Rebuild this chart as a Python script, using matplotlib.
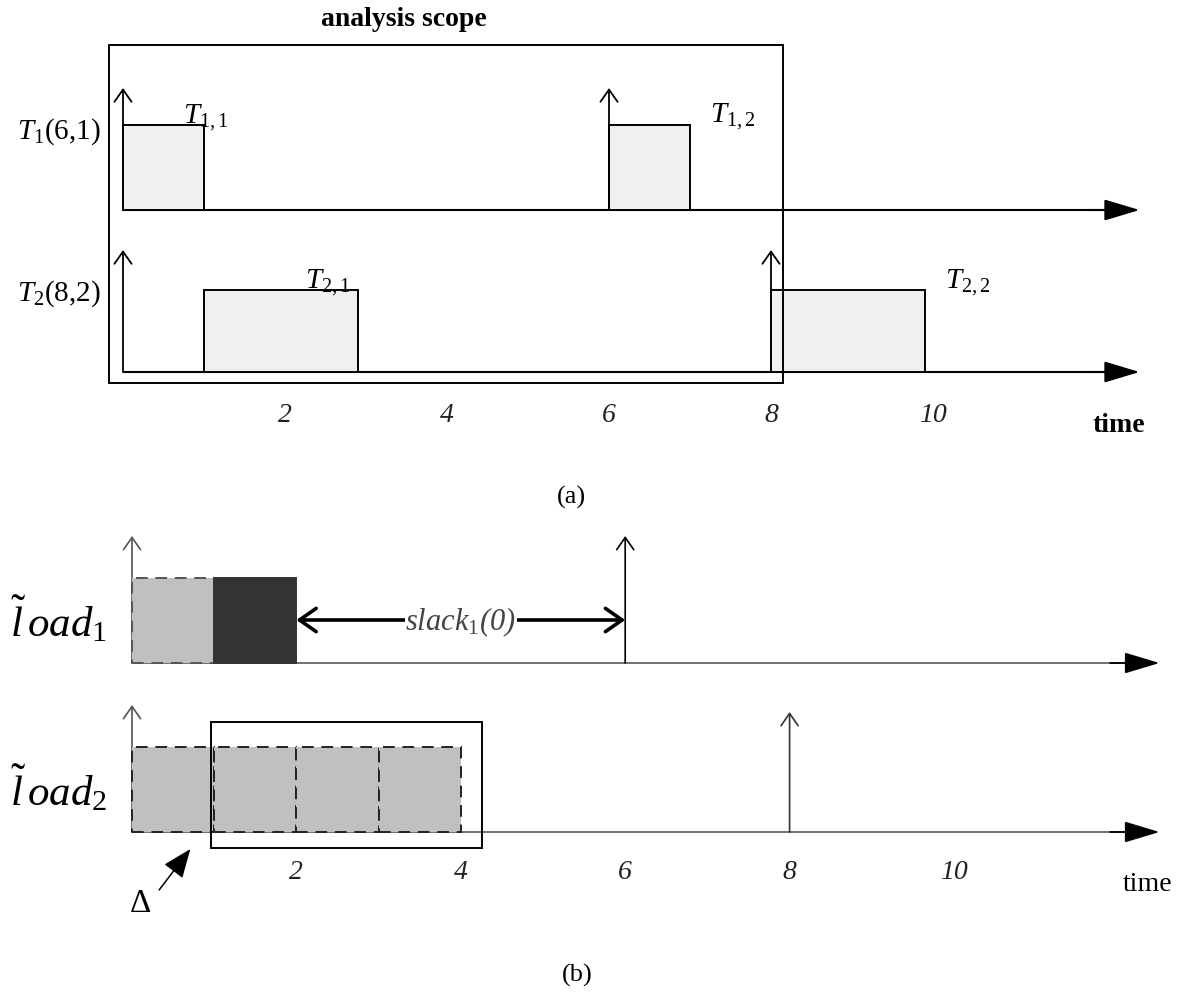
import matplotlib
matplotlib.use("Agg")
import matplotlib.pyplot as plt

plt.rcParams["font.family"] = ["Liberation Serif", "DejaVu Serif"]
plt.rcParams["mathtext.fontset"] = "custom"
plt.rcParams["mathtext.rm"] = "Liberation Serif"
plt.rcParams["mathtext.it"] = "Liberation Serif:italic"
plt.rcParams["mathtext.bf"] = "Liberation Serif:bold"

# ---- data: panel (a), two periodic tasks T(period, wcet)
task_labels = [r"$T_{\mathit{1}}$(6,1)", r"$T_{\mathit{2}}$(8,2)"]
job_labels = [[r"$T_{\mathit{1,1}}$", r"$T_{\mathit{1,2}}$"],
              [r"$T_{\mathit{2,1}}$", r"$T_{\mathit{2,2}}$"]]
job_start = [[0, 6], [1, 8]]
job_end = [[1, 7], [2.9, 9.9]]
release_a = [[0, 6], [0, 8]]
scope = [0, 8]
time_ticks = [2, 4, 6, 8, 10]

# ---- data: panel (b), estimated loads
load_labels = [r"$\tilde{l}\,oad_{1}$", r"$\tilde{l}\,oad_{2}$"]
load1_start = [0, 1]
load1_end = [1, 2]
load2_start = [0, 1, 2, 3]
load2_end = [1, 2, 3, 4]
release_b = [[0, 6], [0, 8]]
slack1 = [2, 6]
delta_window = [0.96, 4.26]

W, H = 1194, 992
fig = plt.figure(figsize=(W / 100, H / 100), dpi=100)

# panel axes: x in time units, y in pixel rows (layout only)
X0A, SA = 123, 81.0
X0B, SB = 132, 82.2
ax_a = fig.add_axes([0, 1 - 470 / H, 1, 470 / H])
ax_a.set_xlim(-X0A / SA, (W - X0A) / SA)
ax_a.set_ylim(470, 0)
ax_b = fig.add_axes([0, 0, 1, 522 / H])
ax_b.set_xlim(-X0B / SB, (W - X0B) / SB)
ax_b.set_ylim(H, 470)
for ax in (ax_a, ax_b):
    ax.axis("off")


def up_arrow(ax, x, y0, y1, color="black", lw=1.3):
    ax.annotate("", xy=(x, y1), xytext=(x, y0),
                arrowprops=dict(arrowstyle="->,head_length=0.4,head_width=0.28",
                                mutation_scale=22, color=color, lw=lw,
                                shrinkA=0, shrinkB=0))


def time_axis(ax, y, x_end, color="black", lw=1.5):
    ax.plot([0, x_end], [y, y], color=color, lw=lw, solid_capstyle="butt", zorder=2)
    ax.annotate("", xy=(x_end + 0.05, y), xytext=(x_end - 0.6, y),
                arrowprops=dict(arrowstyle="-|>,head_length=1.1,head_width=0.33",
                                mutation_scale=20, color="black", lw=lw,
                                shrinkA=0, shrinkB=0), zorder=3)


# ================= panel (a) =================
base_a = [210, 372]
box_h_a = [85, 82]
arrow_tip_a = [88, 250]
for i in range(2):
    time_axis(ax_a, base_a[i], 12.5)
    starts = job_start[i]
    widths = [e - s for s, e in zip(starts, job_end[i])]
    ax_a.bar(starts, -box_h_a[i], width=widths, bottom=base_a[i], align="edge",
             color="#f0f0f0", edgecolor="black", lw=1.4, zorder=2)
    for r in release_a[i]:
        up_arrow(ax_a, r, base_a[i], arrow_tip_a[i])
    ax_a.text(-0.28, base_a[i] - 78, task_labels[i], ha="right", va="center",
              fontsize=21)

# job labels
lab_pos = [[(0.74, 123), (7.25, 122)], [(2.25, 288), (10.15, 288)]]
for i in range(2):
    for j in range(2):
        x, y = lab_pos[i][j]
        ax_a.text(x, y, job_labels[i][j], ha="left", va="baseline", fontsize=21)

# analysis scope box
pad = 0.17
ax_a.add_patch(plt.Rectangle((scope[0] - pad, 45), scope[1] - scope[0] + 2 * pad - 0.02,
                             383 - 45, fill=False, edgecolor="black", lw=1.4, zorder=4))
ax_a.text(3.47, 20, "analysis scope", ha="center", va="center", fontsize=20,
          fontweight="bold")

for t in time_ticks:
    ax_a.text(t, 415, str(t), ha="center", va="center", fontsize=20,
              fontstyle="italic", color="#222222")
ax_a.text(12.3, 425, "time", ha="center", va="center", fontsize=20, fontweight="bold")

fig.text(571 / W, 1 - 497 / H, "(a)", ha="center", va="center", fontsize=19)

# ================= panel (b) =================
base_b = [663, 832]
box_h_b = 85
arrow_tip_b = [[536, 536], [705, 712]]
arrow_col_b = [["#555555", "black"], ["#555555", "#333333"]]
for i in range(2):
    ax_b.plot([0, 12.45], [base_b[i]] * 2, color="#666666", lw=1.3, zorder=2)
    ax_b.annotate("", xy=(12.5, base_b[i]), xytext=(11.9, base_b[i]),
                  arrowprops=dict(arrowstyle="-|>,head_length=1.1,head_width=0.33",
                                  mutation_scale=20, color="black", lw=1.3,
                                  shrinkA=0, shrinkB=0), zorder=3)
    for k, r in enumerate(release_b[i]):
        up_arrow(ax_b, r, base_b[i], arrow_tip_b[i][k], color=arrow_col_b[i][k], lw=1.2)
    ax_b.text(-1.48, base_b[i] - 43, load_labels[i], ha="left", va="center",
              fontsize=31)

# load1: estimated part (light, dashed) + executed part (dark)
ax_b.bar(load1_start[:1], -box_h_b, width=[load1_end[0] - load1_start[0]],
         bottom=base_b[0], align="edge", color="#c0c0c0", edgecolor="#555555",
         lw=1.4, linestyle=(0, (6, 4)), zorder=3)
ax_b.bar(load1_start[1:], -box_h_b, width=[load1_end[1] - load1_start[1]],
         bottom=base_b[0], align="edge", color="#333333", edgecolor="#333333",
         lw=1.4, zorder=3)

# load2: unit blocks
w2 = [e - s for s, e in zip(load2_start, load2_end)]
ax_b.bar(load2_start, -box_h_b, width=w2, bottom=base_b[1], align="edge",
         color="#c0c0c0", edgecolor="#222222", lw=1.4, linestyle=(0, (6, 4)), zorder=3)

# slack arrow
ax_b.annotate("", xy=(slack1[1], 620), xytext=(slack1[0], 620),
              arrowprops=dict(arrowstyle="<->,head_length=0.5,head_width=0.35",
                              mutation_scale=24, color="black", lw=2.6,
                              shrinkA=0, shrinkB=0), zorder=4)
ax_b.text((slack1[0] + slack1[1]) / 2, 622, r"slack$_{\mathit{1}}$(0)", ha="center",
          va="center", fontsize=22, fontstyle="italic", color="#444444", zorder=5,
          bbox=dict(facecolor="white", edgecolor="none", pad=0.5))

# delta window
ax_b.add_patch(plt.Rectangle((delta_window[0], 722), delta_window[1] - delta_window[0],
                             848 - 722, fill=False, edgecolor="black", lw=1.4, zorder=5))
ax_b.annotate("", xy=(0.71, 849), xytext=(0.33, 890),
              arrowprops=dict(arrowstyle="-|>,head_length=1.0,head_width=0.4",
                              mutation_scale=18, color="black", lw=1.1,
                              shrinkA=0, shrinkB=0), zorder=5)
ax_b.text(0.1, 904, r"$\Delta$", ha="center", va="center", fontsize=24)

for t in time_ticks:
    ax_b.text(t, 872, str(t), ha="center", va="center", fontsize=20,
              fontstyle="italic", color="#222222")
ax_b.text(12.35, 884, "time", ha="center", va="center", fontsize=20)

fig.text(577 / W, 1 - 975 / H, "(b)", ha="center", va="center", fontsize=19)

fig.savefig("out.png", dpi=100, facecolor="white")
